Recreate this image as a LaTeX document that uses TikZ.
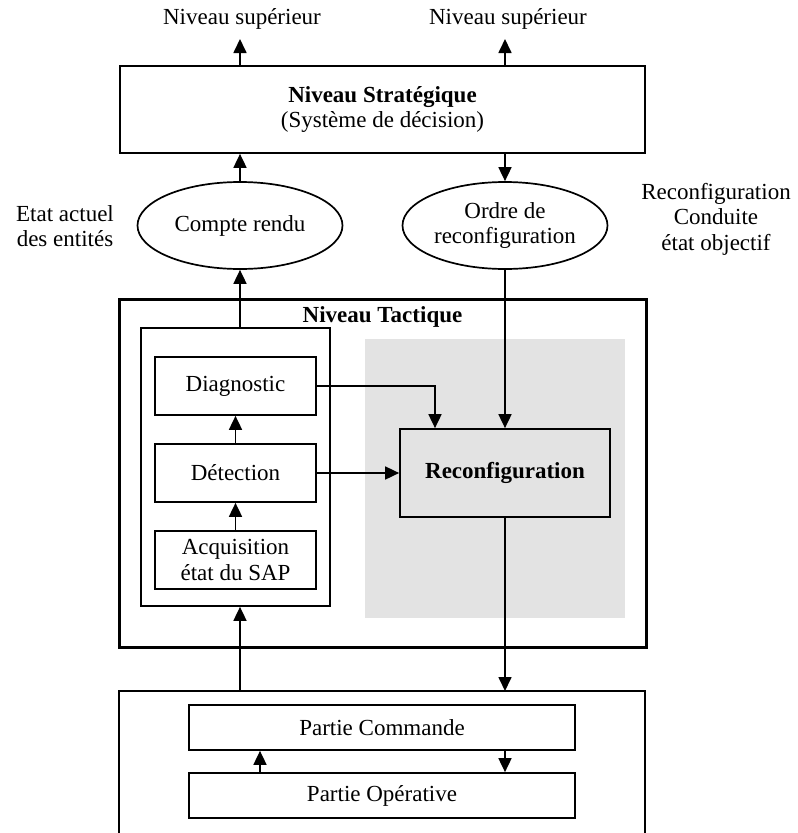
\documentclass[tikz,border=0pt]{standalone}
\usepackage{fontspec}
\setmainfont{Liberation Serif}
\usetikzlibrary{arrows.meta,shapes.geometric}
\definecolor{greyfill}{HTML}{E3E3E3}
\begin{document}
\begin{tikzpicture}[x=1pt,y=-1pt,
  line width=1.7pt,
  >={Triangle[length=14pt,width=13pt]},
  every node/.style={font=\fontsize{23}{25.5}\selectfont, inner sep=0pt},
  box/.style={draw, rectangle, line width=1.7pt},
  oval/.style={draw, ellipse, line width=1.7pt, minimum width=205pt, minimum height=87pt, align=center},
  lbl/.style={align=center},
]
\useasboundingbox (0,0) rectangle (798,833);

% Strategic level
\node[box, minimum width=525pt, minimum height=87pt, align=center] (strat) at (382.5,109.5)
  {\textbf{Niveau Stratégique}\\(Système de décision)};

% upper labels
\node[lbl] (sup1) at (242,19) {Niveau supérieur};
\node[lbl] (sup2) at (508,19) {Niveau supérieur};
\coordinate (t1) at (240,39);
\coordinate (t2) at (505,39);

% ellipses
\node[oval] (cr) at (240,225.5) {Compte rendu};
\node[oval] (ord) at (505,225.5) {Ordre de\\reconfiguration};

% side labels
\node[lbl] (etat) at (65,226) {Etat actuel\\des entités};
\node[lbl] (recl) at (716,219) {Reconfiguration\\Conduite\\état objectif};

% Tactical level
\node[draw, line width=3pt, minimum width=527pt, minimum height=348pt] (tact) at (382.5,473) {};
\fill[greyfill] (365,339) rectangle (625,618);
\node[font=\fontsize{23}{25.5}\selectfont\bfseries] (tacttitle) at (382.5,317) {Niveau Tactique};

\node[box, minimum width=189pt, minimum height=278pt] (inner) at (235.5,467) {};
\node[box, minimum width=161pt, minimum height=58pt] (diag) at (235.5,386) {Diagnostic};
\node[box, minimum width=161pt, minimum height=58pt] (det) at (235.5,473) {Détection};
\node[box, minimum width=161pt, minimum height=58pt, align=center] (acq) at (235.5,560) {Acquisition\\état du SAP};
\node[box, minimum width=210pt, minimum height=88pt, font=\fontsize{23}{25.5}\selectfont\bfseries] (rec) at (505,473) {Reconfiguration};

% bottom system
\draw (119,834) -- (119,691) -- (645,691) -- (645,834);
\coordinate (botL) at (240,691);
\coordinate (botR) at (505,691);
\node[box, minimum width=386pt, minimum height=45pt] (pc) at (382,727.5) {Partie Commande};
\node[box, minimum width=386pt, minimum height=45pt] (po) at (382,795.5) {Partie Opérative};

% connectors
\draw[->] (strat.north -| t1) -- (t1);
\draw[->] (strat.north -| t2) -- (t2);
\draw[->] (cr.north) -- (cr.north |- strat.south);
\draw[->] (strat.south -| ord) -- (ord.north);
\draw[->] (inner.north -| cr) -- (cr.south);
\draw[->] (ord.south) -- (rec.north);
\draw[->] (diag.east) -| ([xshift=-70pt]rec.north);
\draw[->] (det.east) -- (rec.west);
\draw[->] (det.north) -- (diag.south);
\draw[->] (acq.north) -- (det.south);
\draw[->] (rec.south) -- (botR);
\draw[->] (botL) -- (botL |- inner.south);
\draw[->] ([xshift=-122pt]po.north) -- ([xshift=-122pt]pc.south);
\draw[->] ([xshift=123pt]pc.south) -- ([xshift=123pt]po.north);
\end{tikzpicture}
\end{document}
